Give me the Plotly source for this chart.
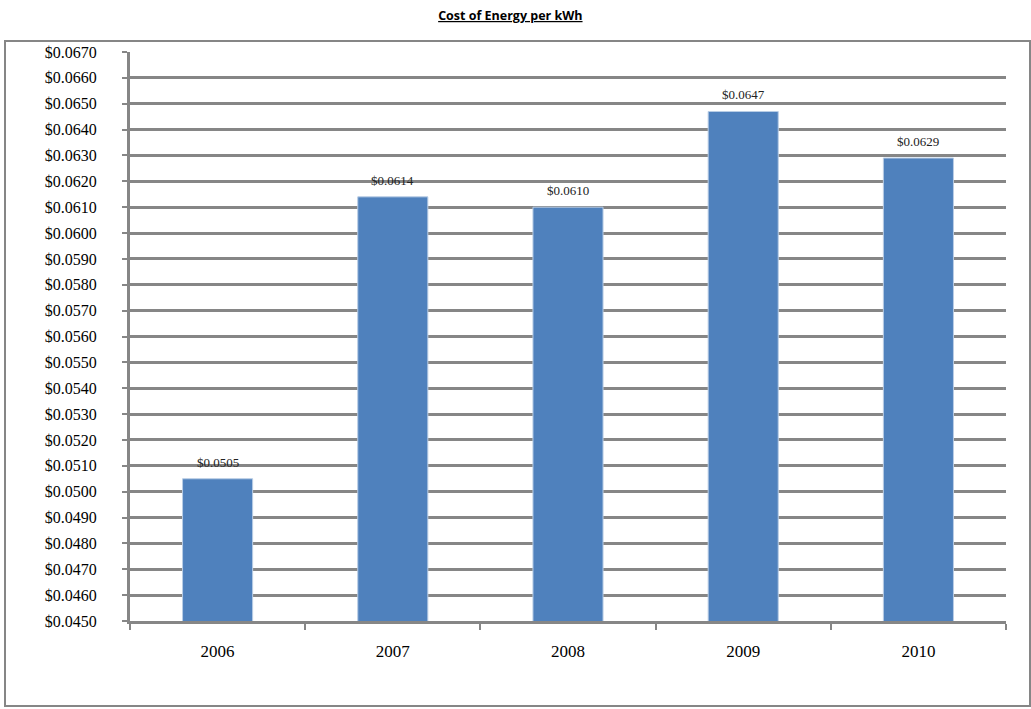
import plotly.graph_objects as go

years = ["2006", "2007", "2008", "2009", "2010"]
costs = [0.0505, 0.0614, 0.0610, 0.0647, 0.0629]
labels = ["$0.0505", "$0.0614", "$0.0610", "$0.0647", "$0.0629"]
title = "Cost of Energy per kWh"

grey = "#868686"
fig = go.Figure()
fig.add_trace(go.Bar(
    x=years, y=costs,
    marker=dict(color="#4F81BD", line=dict(color="#B9CDE5", width=1)),
    hoverinfo="x+y",
))
for i, (c, lab) in enumerate(zip(costs, labels)):
    fig.add_annotation(x=i, y=c, text=lab, showarrow=False, yanchor="bottom", yshift=7,
                       font=dict(family="Liberation Serif", size=13, color="#222"))

fig.add_shape(type="rect", xref="paper", yref="paper",
              x0=(5 - 130) / 876, x1=(1030 - 130) / 876,
              y0=-(706 - 621) / 569, y1=1 + 11 / 569,
              line=dict(color=grey, width=2), layer="below")

fig.update_layout(
    width=1031, height=709,
    margin=dict(l=130, r=25, t=52, b=88, autoexpand=False),
    paper_bgcolor="white", plot_bgcolor="white",
    bargap=0.6, showlegend=False,
    title=dict(text="<b><u>" + title + "</u></b>", x=0.495, xanchor="center", y=0.978, yanchor="middle",
               font=dict(family="Open Sans", size=12.5, color="black")),
    font=dict(family="Liberation Serif", color="black"),
)
fig.update_yaxes(range=[0.045, 0.067], dtick=0.001, tick0=0.045, tickformat="$.4f",
                 showgrid=True, gridcolor=grey, gridwidth=2.5,
                 showline=True, linecolor=grey, linewidth=3,
                 ticks="outside", ticklen=5, tickcolor=grey, tickwidth=2,
                 ticklabelstandoff=22, tickfont=dict(family="Liberation Serif", size=16, color="black"),
                 zeroline=False, automargin=False)
fig.update_xaxes(type="category", range=[-0.5, 4.5], showline=True, linecolor=grey, linewidth=3,
                 ticks="outside", tickson="boundaries", ticklen=6, tickcolor=grey, tickwidth=2,
                 ticklabelstandoff=13, tickfont=dict(family="Liberation Serif", size=17, color="black"),
                 showgrid=False, automargin=False, tickangle=0)

fig.write_html("out.html", config={"displayModeBar": False},
               post_script="document.body.style.margin='0px';")
